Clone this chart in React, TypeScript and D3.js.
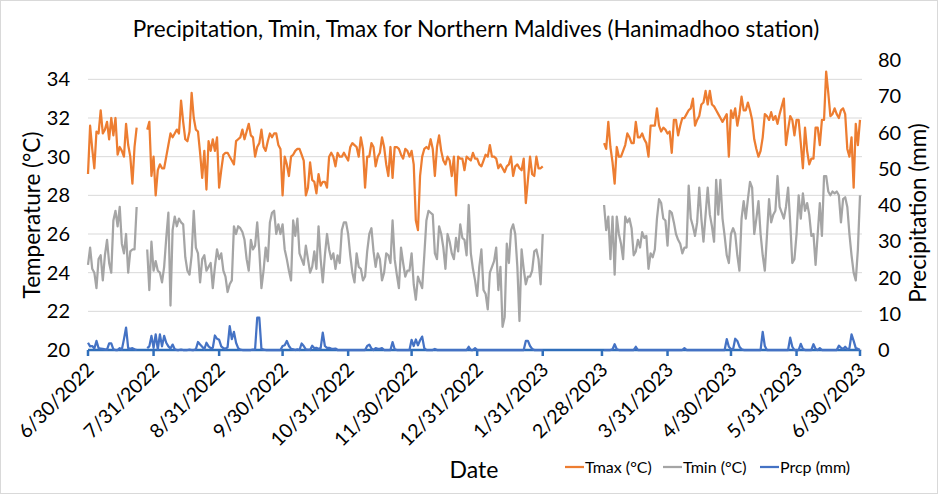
import React from "react";
import * as d3 from "d3";

// each series is split in three runs of daily values (short gap late July 2022, no data in February 2023)
const segStarts = ["2022-06-30", "2022-07-28", "2023-03-01"];

const tmaxA = [29.1, 31.6, 30.4, 29.4, 31.3, 31.2, 32.4, 31.2, 31.4, 31.8, 30.9, 32.0, 31.1, 32.0, 30.1, 30.5, 30.3, 30.0, 31.7, 30.6, 30.0, 28.6, 30.5, 31.5];
const tmaxB = [
  31.4, 31.8, 29.0, 30.0, 28.0, 29.3, 29.6, 29.4, 29.4, 30.0,
  30.6, 31.2, 31.0, 31.2, 31.4, 31.2, 32.9, 31.8, 30.9, 30.8,
  31.3, 33.3, 32.0, 31.4, 31.3, 30.2, 28.9, 30.3, 28.3, 30.8,
  30.3, 30.9, 30.3, 31.0, 28.4, 29.3, 30.1, 30.2, 30.2, 30.0,
  29.8, 29.6, 30.8, 30.9, 31.0, 31.4, 30.9, 31.3, 31.7, 31.1,
  31.0, 30.0, 30.5, 30.7, 31.4, 30.5, 30.3, 30.8, 31.2, 31.0,
  31.2, 31.2, 30.6, 30.4, 28.0, 30.0, 29.6, 29.0, 30.0, 30.1,
  30.3, 30.4, 30.4, 30.1, 29.8, 28.0, 28.4, 29.7, 28.8, 28.7,
  28.1, 29.1,
  28.5, 28.7, 28.7, 28.4, 30.0, 30.2, 30.0, 29.5, 30.2, 30.0,
  30.0, 30.2, 30.0, 29.8, 30.5, 30.7, 30.6, 30.5, 30.0, 31.0,
  30.4, 28.4, 30.0, 30.0, 30.7, 30.5, 29.5, 30.0, 30.2, 31.0,
  30.5, 29.6, 29.0, 30.5, 28.9, 30.5, 30.5, 30.4, 30.1, 29.9,
  30.4, 30.3, 30.0, 30.3, 29.6, 26.7, 26.2, 29.0, 30.0, 30.4,
  30.5, 30.4, 30.9, 30.4, 29.0, 30.5, 31.1, 30.3, 29.8, 29.6,
  30.0, 29.8, 29.0, 30.0, 28.0, 30.0, 29.9, 29.9, 29.3, 30.0,
  29.9, 29.8, 30.2, 29.9, 29.9, 29.6, 29.5, 29.8, 30.1, 30.0,
  30.6, 30.0, 30.0, 29.9, 29.4, 29.6, 29.4, 29.2, 29.5, 29.6,
  30.0, 29.0, 29.5, 29.6, 29.4, 29.3, 29.9, 27.6, 28.8, 30.0,
  29.1, 29.0, 30.0, 29.4, 29.4, 29.5,
];
const tmaxC = [
  30.7, 30.4, 31.8, 30.5, 29.7, 28.6, 30.5, 30.0, 30.0, 30.3,
  30.6, 31.2, 31.0, 30.7, 30.7, 31.8, 31.0, 31.0, 31.2, 30.9,
  30.7, 30.0, 31.6, 31.6, 31.6, 32.5, 31.6, 31.3, 31.5, 31.4,
  31.2, 31.3, 30.2, 31.9, 31.9, 31.1, 31.6, 32.0, 32.0, 32.2,
  32.4, 32.5, 33.0, 31.6, 31.9, 32.1, 32.7, 32.8, 33.4, 32.7,
  33.4, 32.7, 32.6, 32.4, 32.2, 32.0, 31.8, 32.0, 32.2, 30.0,
  32.4, 32.0, 32.5, 31.6, 32.2, 33.1, 32.4, 32.4, 32.8, 32.4,
  31.9, 30.9, 30.4, 30.0, 30.3, 31.0, 32.2, 32.1, 31.9, 32.3,
  31.9, 32.1, 31.7, 32.2, 32.6, 33.0, 30.6, 31.4, 32.1, 31.9,
  31.1, 31.9, 31.9, 30.7, 29.4, 31.5, 30.3, 29.6, 29.9, 29.9,
  31.5, 31.5, 30.6, 31.9, 31.9, 34.4, 33.3, 32.1, 32.2, 32.5,
  32.2, 32.0, 32.4, 32.5, 32.2, 30.4, 30.0, 31.0, 28.4, 31.7,
  30.6, 31.9,
];

const tminA = [24.4, 25.3, 24.2, 24.0, 23.2, 24.7, 24.9, 23.6, 24.9, 25.7, 24.5, 24.0, 26.7, 27.2, 26.4, 27.4, 25.5, 25.0, 26.0, 24.0, 25.1, 25.2, 25.2, 27.4];
const tminB = [
  25.2, 23.1, 25.6, 24.1, 24.6, 24.1, 24.0, 23.5, 24.3, 25.8,
  27.1, 22.3, 26.2, 26.9, 26.4, 26.8, 26.6, 26.5, 24.8, 24.1,
  23.9, 24.9, 27.2, 25.3, 25.0, 23.5, 24.7, 24.9, 24.1, 24.3,
  24.5, 23.2, 24.3, 25.2, 24.7, 25.0, 24.1, 23.8, 23.0, 23.4,
  23.6, 26.4, 26.0, 26.4, 26.3, 26.1, 25.7, 24.7, 24.1, 25.7,
  25.2, 25.4, 26.6, 25.1, 23.2, 24.1, 25.3, 24.6, 26.6, 27.1,
  27.2, 26.0, 26.5, 26.0, 26.5, 25.2, 24.7, 24.1, 23.6, 26.7,
  25.9, 26.8, 25.0, 24.7, 24.4, 25.4, 24.7, 24.0, 24.3, 25.1,
  24.2, 26.4,
  24.7, 23.5, 24.9, 26.0, 25.2, 24.7, 25.0, 24.2, 24.9, 24.5,
  26.2, 26.6, 26.6, 26.0, 24.9, 24.0, 23.5, 25.0, 24.3, 24.2,
  23.6, 23.8, 25.1, 26.0, 26.3, 25.1, 24.3, 25.0, 24.7, 23.6,
  24.0, 25.0, 24.9, 24.5, 26.7, 24.7, 23.9, 23.2, 25.3, 24.5,
  23.8, 24.1, 24.1, 25.0, 23.4, 22.6, 23.8, 23.5, 23.2, 24.9,
  26.7, 27.2, 27.1, 27.0, 25.0, 24.7, 26.4, 26.0, 25.3, 24.2,
  26.0, 25.6, 25.0, 24.7, 25.8, 25.1, 26.5, 25.8, 25.7, 24.9,
  27.5, 25.0, 24.2, 23.6, 22.8, 24.3, 25.2, 23.1, 22.9, 22.1,
  24.0, 24.3, 24.6, 25.3, 23.1, 24.3, 21.2, 21.7, 25.5, 24.5,
  26.2, 26.5, 26.0, 24.3, 21.5, 25.2, 24.2, 23.4, 23.8, 23.8,
  24.1, 25.1, 25.2, 24.7, 23.4, 26.0,
];
const tminC = [
  27.5, 26.2, 26.9, 24.7, 26.9, 23.9, 26.9, 26.0, 25.5, 24.7,
  26.9, 26.6, 26.8, 26.3, 24.9, 25.1, 25.7, 25.3, 26.1, 25.8,
  25.9, 24.2, 25.0, 24.8, 25.2, 26.8, 27.8, 27.6, 26.8, 26.7,
  25.4, 27.2, 27.1, 26.6, 26.0, 25.7, 25.5, 25.0, 25.3, 25.3,
  28.5, 26.8, 26.4, 25.9, 26.6, 28.4, 26.8, 25.6, 27.0, 28.4,
  27.0, 26.4, 25.6, 28.8, 27.0, 28.8, 26.8, 25.9, 24.9, 24.5,
  26.0, 26.3, 26.0, 24.9, 24.1, 26.8, 27.7, 26.8, 27.8, 28.7,
  28.4, 26.0, 26.8, 27.7, 26.0, 24.9, 24.1, 25.9, 27.8, 26.6,
  27.0, 27.2, 29.0, 27.4, 27.1, 26.8, 27.4, 28.4, 26.6, 24.5,
  24.7, 26.0, 28.0, 26.8, 28.1, 27.2, 27.6, 27.0, 25.9, 26.0,
  24.4, 26.0, 27.6, 25.9, 29.0, 29.0, 28.2, 28.0, 28.2, 28.1,
  28.2, 28.0, 26.6, 27.8, 27.9, 27.4, 26.0, 24.9, 24.0, 23.6,
  25.2, 28.0,
];

const prcpA = [2.0, 1.0, 1.1, 0.4, 2.5, 0.5, 0.4, 0.3, 0.2, 0.1, 1.8, 1.8, 0.2, 0, 0, 0.5, 0.1, 3.0, 6.2, 0.5, 0.3, 0.5, 0.2, 0];
const prcpB = [
  0.5, 1.0, 3.9, 0.6, 4.3, 0.2, 4.3, 1.0, 3.9, 2.0, 1.0, 0.4, 1.5, 0.2,
  0, 0, 0.1, 0, 0, 0, 0.1, 0, 0,
  0.2, 2.2, 1.5, 0.9, 0.2, 2.0, 1.0, 0.5, 0.6, 4.0, 3.1, 2.8, 1.0, 0.5, 0.3, 0.8, 6.6, 3.0, 5.0, 2.0, 0.5,
  0.1, 0, 0, 0, 0, 0, 0.1, 0.2,
  8.9, 8.9, 0.3,
  0.1, 0, 0, 0, 0, 0, 0, 0, 0,
  1.1, 1.3, 2.5, 1.1, 0.3, 0.2, 0, 0.2, 0, 1.8, 1.1, 0.2, 0.1, 0, 1.2, 0.5, 0.6, 0.3,
  0.5, 4.8, 1.1, 0.6, 0.6, 0.4, 0.3, 0.4, 0,
  0, 0, 0, 0, 0, 0, 0, 0, 0, 0, 0, 0, 0,
  1.1, 1.5, 0.4, 0, 0.5, 0.3, 0.3, 0.5,
  0, 0, 0, 0,
  2.2, 0.2,
  0, 0, 0, 0, 0, 0, 0,
  2.8, 1.1, 2.9, 1.3, 2.7, 3.7, 0.5,
  0, 0, 0, 0, 0.3, 0, 0, 0, 0, 0, 0, 0, 0, 0, 0, 0, 0, 0, 0, 0,
  0.9, 0, 0, 0.5,
  0, 0, 0, 0, 0, 0, 0, 0, 0, 0, 0, 0, 0, 0, 0, 0, 0, 0, 0, 0, 0, 0, 0,
  2.5, 2.5, 1.1, 0.3,
  0, 0, 0, 0, 0,
];
const prcpC = [
  0, 0, 0, 0, 0.2, 1.6, 0.2,
  0, 0, 0, 0, 0, 0, 0, 0,
  0.9,
  0, 0, 0, 0, 0, 0, 0, 0, 0, 0, 0, 0, 0, 0, 0, 0, 0, 0, 0, 0, 0, 0,
  0.5,
  0, 0, 0, 0, 0, 0, 0, 0, 0, 0, 0, 0, 0, 0, 0, 0, 0, 0, 0,
  3.0, 0.9, 0.3, 0.2, 3.1, 2.5, 0.9, 0.2,
  0, 0, 0, 0, 0, 0, 0, 0, 0,
  5.0, 1.1,
  0, 0, 0, 0, 0, 0, 0, 0, 0, 0, 0,
  3.4, 0.9,
  0, 0, 0,
  1.7, 0.3,
  0, 0, 0, 0,
  1.6, 0.3,
  0, 0.5, 0,
  0, 0, 0, 0, 0, 0, 0,
  1.2, 0.6, 0.3, 0.9, 0.2, 0.5,
  4.3, 2.5, 0.5, 0.3, 0,
];

const xTickDates = ["2022-06-30", "2022-07-31", "2022-08-31", "2022-09-30", "2022-10-31", "2022-11-30", "2022-12-31", "2023-01-31", "2023-02-28", "2023-03-31", "2023-04-30", "2023-05-31", "2023-06-30"];
const tempTicks = [20, 22, 24, 26, 28, 30, 32, 34];
const prcpTicks = [0, 10, 20, 30, 40, 50, 60, 70, 80];

const seriesNames = ["Tmax (°C)", "Tmin (°C)", "Prcp (mm)"];
const seriesColors = ["#ED7D31", "#A5A5A5", "#4472C4"];

const FONT = "Lato, 'Noto Sans', sans-serif";
const parse = d3.utcParse("%Y-%m-%d");
const fmt = d3.utcFormat("%-m/%-d/%Y");

type Pt = { date: Date; v: number | null };

function toPoints(segs: number[][]): Pt[] {
  const out: Pt[] = [];
  segs.forEach((vals, i) => {
    const start = parse(segStarts[i]) as Date;
    vals.forEach((v, j) => out.push({ date: d3.utcDay.offset(start, j), v }));
    if (i < segs.length - 1) out.push({ date: start, v: null });
  });
  return out;
}

export default function App() {
  const W = 938, H = 494;
  const x0 = 88, x1 = 860, yTop = 60, yBot = 350;

  const x = d3.scaleUtc()
    .domain([parse(xTickDates[0]) as Date, parse(xTickDates[xTickDates.length - 1]) as Date])
    .range([x0, x1]);
  const yT = d3.scaleLinear().domain([20, 35]).range([yBot, yTop]);
  const yP = d3.scaleLinear().domain([0, 80]).range([yBot, yTop]);

  const lineT = d3.line<Pt>().defined(d => d.v != null).x(d => x(d.date)).y(d => yT(d.v as number));
  const lineP = d3.line<Pt>().defined(d => d.v != null).x(d => x(d.date)).y(d => yP(d.v as number));

  const tmax = toPoints([tmaxA, tmaxB, tmaxC]);
  const tmin = toPoints([tminA, tminB, tminC]);
  const prcp = toPoints([prcpA, prcpB, prcpC]);

  const legendX = [565, 663, 760];

  return (
    <svg width={W} height={H} style={{ position: "absolute", left: 0, top: 0, background: "#fff" }} fontFamily={FONT}>
      <rect x={0.5} y={0.5} width={W - 1} height={H - 1} fill="#fff" stroke="#D9D9D9" />
      <text x={476} y={37} textAnchor="middle" fontSize={22.5} fill="#000">
        Precipitation, Tmin, Tmax for Northern Maldives (Hanimadhoo station)
      </text>

      {tempTicks.map(t => (
        <line key={"g" + t} x1={x0} x2={x1 + 2} y1={yT(t)} y2={yT(t)} stroke="#D9D9D9" strokeWidth={1} />
      ))}

      {tempTicks.map(t => (
        <text key={"lt" + t} x={70} y={yT(t)} dy="0.35em" textAnchor="end" fontSize={20} fill="#000">{t}</text>
      ))}
      {prcpTicks.map(t => (
        <text key={"rt" + t} x={878} y={yP(t)} dy="0.35em" textAnchor="start" fontSize={20} fill="#000">{t}</text>
      ))}

      <text transform={`translate(40,${(yTop + yBot) / 2 + 10}) rotate(-90)`} textAnchor="middle" fontSize={22.5} fill="#000">Temperature (°C)</text>
      <text transform={`translate(926,${(yTop + yBot) / 2 + 8}) rotate(-90)`} textAnchor="middle" fontSize={22.5} fill="#000">Precipitation (mm)</text>

      <path d={lineT(tmin) || ""} fill="none" stroke={seriesColors[1]} strokeWidth={2.25} strokeLinejoin="round" />
      <path d={lineT(tmax) || ""} fill="none" stroke={seriesColors[0]} strokeWidth={2.25} strokeLinejoin="round" />

      <line x1={x0} x2={x1} y1={yBot} y2={yBot} stroke="#2F6EBA" strokeWidth={2.5} />
      {xTickDates.map(s => {
        const d = parse(s) as Date;
        return <line key={"xt" + s} x1={x(d)} x2={x(d)} y1={yBot} y2={yBot + 6} stroke="#2F6EBA" strokeWidth={2.5} />;
      })}
      <path d={lineP(prcp) || ""} fill="none" stroke={seriesColors[2]} strokeWidth={2.25} strokeLinejoin="round" />

      {xTickDates.map(s => {
        const d = parse(s) as Date;
        return (
          <text key={"xl" + s} transform={`translate(${x(d) + 7},${yBot + 21}) rotate(-45)`} textAnchor="end" fontSize={19.5} fill="#000">
            {fmt(d)}
          </text>
        );
      })}

      <text x={474} y={478} textAnchor="middle" fontSize={23} fill="#000">Date</text>

      {seriesNames.map((n, i) => (
        <g key={n} transform={`translate(${legendX[i]},467)`}>
          <line x1={0} x2={19} y1={0} y2={0} stroke={seriesColors[i]} strokeWidth={2.25} />
          <text x={20} y={0} dy="0.35em" fontSize={16} fill="#000">{n}</text>
        </g>
      ))}
    </svg>
  );
}
